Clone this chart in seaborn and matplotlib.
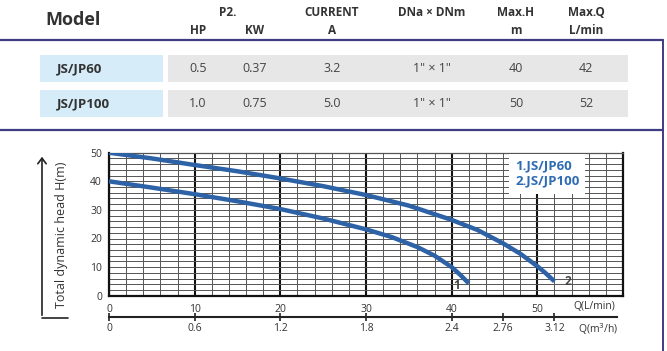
import matplotlib
matplotlib.use("Agg")
import matplotlib.pyplot as plt
import seaborn as sns
import pandas as pd
from matplotlib.patches import Rectangle, FancyArrowPatch
from matplotlib.lines import Line2D

# ---------------- data ----------------
models = ["JS/JP60", "JS/JP100"]
hp = ["0.5", "1.0"]
kw = ["0.37", "0.75"]
current = ["3.2", "5.0"]
dn = ['1" × 1"', '1" × 1"']
max_h = ["40", "50"]
max_q = ["42", "52"]

q_jp60 = [0, 5, 10, 15, 20, 25, 30, 33, 36, 38, 40, 41, 42]
h_jp60 = [40, 37.8, 35.5, 33, 30.3, 27, 23.2, 20.5, 17, 14, 10, 7.3, 4.3]
q_jp100 = [0, 5, 10, 15, 20, 25, 30, 35, 40, 43, 46, 48, 50, 51, 52]
h_jp100 = [50, 48, 45.7, 43.5, 41, 38.3, 35.2, 31.5, 26.5, 23, 18.3, 14.7, 10.3, 7.8, 5]

q_lmin_ticks = [0, 10, 20, 30, 40, 50]
q_m3h_ticks = [0, 10, 20, 30, 40, 46, 52]
q_m3h_labels = ["0", "0.6", "1.2", "1.8", "2.4", "2.76", "3.12"]
h_ticks = [0, 10, 20, 30, 40, 50]

# ---------------- style ----------------
sns.set_theme(style="white")
plt.rcParams["font.family"] = ["Open Sans", "DejaVu Sans"]

W, H = 667, 351
fig = plt.figure(figsize=(W / 100, H / 100), dpi=100)


def fx(px):
    return px / W


def fy(py):
    return 1 - py / H


NAVY = "#3f3c86"
TXT = "#333333"
BLUE = "#2d63a6"

# ---------------- table ----------------
def ftext(px, py, s, **kw_):
    fig.text(fx(px), fy(py), s, ha=kw_.pop("ha", "center"), va="center", **kw_)

ftext(73, 20, "Model", fontsize=13, fontweight="bold", color=TXT)
header_top = [(228, "P2."), (332, "CURRENT"), (432, "DNa × DNm"), (516, "Max.H"), (586, "Max.Q")]
header_bot = [(198, "HP"), (255, "KW"), (332, "A"), (516, "m"), (586, "L/min")]
for x, s in header_top:
    ftext(x, 13, s, fontsize=8.5, fontweight="bold", color=TXT)
for x, s in header_bot:
    ftext(x, 30, s, fontsize=8.5, fontweight="bold", color=TXT)

fig.add_artist(Line2D([0, fx(663)], [fy(40), fy(40)], color=NAVY, lw=1.6, transform=fig.transFigure))
fig.add_artist(Line2D([fx(663), fx(663)], [fy(40), 0], color=NAVY, lw=1.4, transform=fig.transFigure))
fig.add_artist(Line2D([0, fx(663)], [fy(130), fy(130)], color=NAVY, lw=1.6, transform=fig.transFigure))

row_tops = [55, 90]
row_h = 27
for i, top in enumerate(row_tops):
    fig.add_artist(Rectangle((fx(40), fy(top + row_h)), fx(163) - fx(40), row_h / H,
                             facecolor="#d6edf9", edgecolor="none", transform=fig.transFigure))
    fig.add_artist(Rectangle((fx(168), fy(top + row_h)), fx(628) - fx(168), row_h / H,
                             facecolor="#e7e7e7", edgecolor="none", transform=fig.transFigure))
    yc = top + row_h / 2
    ftext(57, yc, models[i], ha="left", fontsize=9.5, fontweight="bold", color=TXT)
    vals = [hp[i], kw[i], current[i], dn[i], max_h[i], max_q[i]]
    for x, v in zip([198, 255, 332, 432, 516, 586], vals):
        ftext(x, yc, v, fontsize=9, color="#444444")

# ---------------- chart ----------------
ax = fig.add_axes([fx(109), fy(295.7), fx(623) - fx(109), (295.7 - 152.7) / H])

df = pd.concat([
    pd.DataFrame({"model": models[0], "Q": q_jp60, "H": h_jp60}),
    pd.DataFrame({"model": models[1], "Q": q_jp100, "H": h_jp100}),
])
sns.lineplot(data=df, x="Q", y="H", hue="model", palette=[BLUE, BLUE],
             estimator=None, sort=False, linewidth=3.2, legend=False, ax=ax, zorder=5)
for ln in ax.get_lines():
    ln.set_solid_joinstyle("round")
    ln.set_solid_capstyle("butt")

ax.set_xlim(0, 60)
ax.set_ylim(0, 50)
ax.set_xticks(q_lmin_ticks)
ax.set_xticks(range(0, 61, 2), minor=True)
ax.set_yticks(h_ticks)
ax.set_yticks(range(0, 51, 2), minor=True)
ax.grid(which="minor", axis="both", color="#555555", lw=0.7)
ax.grid(which="major", axis="y", color="#555555", lw=0.7)
ax.grid(which="major", axis="x", color="#111111", lw=1.5)
ax.set_axisbelow(True)
ax.tick_params(which="both", length=0)
ax.tick_params(axis="x", pad=6, labelsize=7.5, labelcolor=TXT)
ax.tick_params(axis="y", pad=5, labelsize=7.5, labelcolor=TXT)
ax.set_xlabel("")
ax.set_ylabel("")
for s in ["left", "bottom", "right"]:
    ax.spines[s].set_visible(True)
    ax.spines[s].set_color("#111111")
    ax.spines[s].set_linewidth(1.6)
ax.spines["top"].set_visible(True)
ax.spines["top"].set_color("#555555")
ax.spines["top"].set_linewidth(0.9)

ax.text(56.7, -3.8, "Q(L/min)", ha="center", va="center", fontsize=7.5, color=TXT, clip_on=False)

sec = ax.secondary_xaxis(-0.149)
sec.set_xticks(q_m3h_ticks, labels=q_m3h_labels)
sec.spines["bottom"].set_linewidth(1.5)
sec.spines["bottom"].set_color("#222222")
sec.spines["bottom"].set_bounds(0, 59.3)
sec.tick_params(direction="inout", length=6, width=1.2, pad=1.5, labelsize=7.5,
                labelcolor=TXT, color="#222222")
ax.text(57.1, -11.8, "Q(m$^3$/h)", ha="center", va="center", fontsize=7.5, color=TXT, clip_on=False)

# legend box
ax.text(47.4, 42.7, "1.JS/JP60\n2.JS/JP100", ha="left", va="center", fontsize=9.5,
        fontweight="bold", color="#2f6db3", linespacing=1.2, zorder=6,
        bbox=dict(boxstyle="square,pad=0.45", facecolor="white", edgecolor="none"))

ax.text(40.6, 3.6, "1", ha="center", va="center", fontsize=8.5, fontweight="bold", color="#444444", zorder=6)
ax.text(53.6, 5.0, "2", ha="center", va="center", fontsize=8.5, fontweight="bold", color="#444444", zorder=6)

# y axis label with arrow
fig.text(fx(62), fy(235), "Total dynamic head H(m)", rotation=90, ha="center", va="center",
         fontsize=9, color=TXT)
fig.add_artist(Line2D([fx(42), fx(68)], [fy(318), fy(318)], color="#222222", lw=1.2,
                      transform=fig.transFigure))
fig.add_artist(FancyArrowPatch((fx(42), fy(318)), (fx(42), fy(154)), transform=fig.transFigure,
                               arrowstyle="->,head_length=4,head_width=3", color="#222222", lw=1.2))

fig.savefig("out.png", dpi=100)
